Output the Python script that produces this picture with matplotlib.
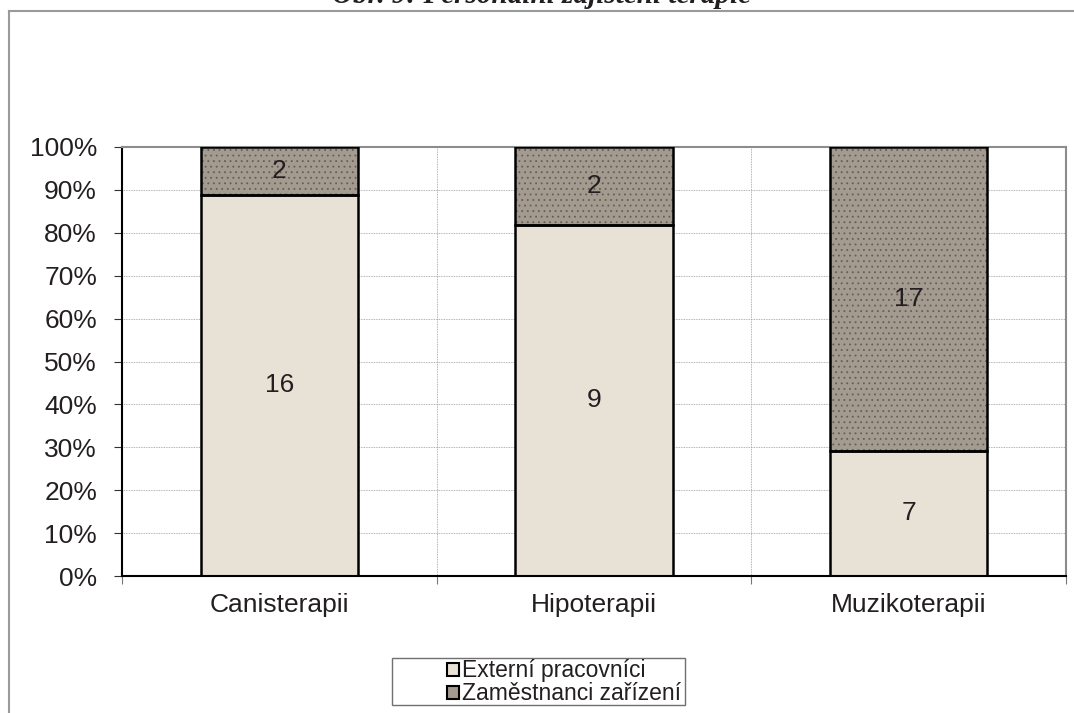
"""
Obr. 9: Personální zajištění terapie - 100% stacked bar chart.
Saves out.png (1074x713).
"""

import matplotlib

matplotlib.use("Agg")
import matplotlib.pyplot as plt
import numpy as np
from matplotlib.lines import Line2D
from matplotlib.patches import Rectangle
from matplotlib.ticker import FixedLocator, PercentFormatter

plt.rcParams["font.family"] = ["Liberation Sans", "DejaVu Sans"]
plt.rcParams["hatch.linewidth"] = 0.6

# data
categories = ["Canisterapii", "Hipoterapii", "Muzikoterapii"]
externi = [16, 9, 7]
zamestnanci = [2, 2, 17]
series_labels = ["Externí pracovníci", "Zaměstnanci zařízení"]
title = "Obr. 9: Personální zajištění terapie"

COLOR_EXT = "#E8E1D5"
COLOR_ZAM = "#A39A90"
TEXT_COLOR = "#231F20"
W, H = 1074, 713


def main() -> None:
    fig = plt.figure(figsize=(W / 100, H / 100), dpi=100)
    ax = fig.add_axes([122 / W, 1 - 576 / H, (1066 - 122) / W, (576 - 147) / H])

    ext = np.array(externi, dtype=float)
    zam = np.array(zamestnanci, dtype=float)
    total = ext + zam
    ext_pct = ext / total * 100
    zam_pct = zam / total * 100
    x = np.arange(len(categories))

    # fills
    ax.bar(x, ext_pct, width=0.5, color=COLOR_EXT, linewidth=0, zorder=2)
    ax.bar(x, zam_pct, width=0.5, bottom=ext_pct, color=COLOR_ZAM,
           edgecolor="#675D54", hatch="...", linewidth=0, zorder=2)
    # outlines
    ax.bar(x, ext_pct, width=0.5, fill=False, edgecolor="black", linewidth=1.8, zorder=3)
    ax.bar(x, zam_pct, width=0.5, bottom=ext_pct, fill=False,
           edgecolor="black", linewidth=1.8, zorder=3)

    for i in range(len(categories)):
        ax.text(x[i], ext_pct[i] / 2, f"{externi[i]:g}", ha="center", va="center",
                fontsize=19, color=TEXT_COLOR, zorder=4)
        ax.text(x[i], ext_pct[i] + zam_pct[i] / 2, f"{zamestnanci[i]:g}", ha="center",
                va="center", fontsize=19, color=TEXT_COLOR, zorder=4)

    ax.set_xlim(-0.5, len(categories) - 0.5)
    ax.set_ylim(0, 100)
    ax.yaxis.set_major_locator(FixedLocator(np.arange(0, 101, 10)))
    ax.yaxis.set_major_formatter(PercentFormatter(decimals=0))
    ax.tick_params(axis="y", direction="out", length=6, width=0.8, pad=12,
                   labelsize=19, labelcolor=TEXT_COLOR, color="#333333")

    ax.set_xticks(np.arange(len(categories) + 1) - 0.5)
    ax.set_xticklabels([])
    ax.set_xticks(x, minor=True)
    ax.set_xticklabels(categories, minor=True)
    ax.tick_params(axis="x", which="major", direction="out", length=6, width=0.8,
                   color="#777777")
    ax.tick_params(axis="x", which="minor", length=0, pad=12, labelsize=19,
                   labelcolor=TEXT_COLOR)

    ax.grid(True, which="major", color="#9A9A9A", linestyle=(0, (1, 1)), linewidth=0.6, zorder=0)
    ax.set_axisbelow(True)

    ax.spines["left"].set_color("black")
    ax.spines["left"].set_linewidth(1.5)
    ax.spines["bottom"].set_color("black")
    ax.spines["bottom"].set_linewidth(1.5)
    ax.spines["top"].set_color("#8C8C8C")
    ax.spines["top"].set_linewidth(1.5)
    ax.spines["right"].set_color("#8C8C8C")
    ax.spines["right"].set_linewidth(1.5)

    # page frame
    fig.add_artist(Line2D([8.5 / W, 8.5 / W], [0, 1 - 10.5 / H], color="#9A9A9A", linewidth=1.5))
    fig.add_artist(Line2D([8.5 / W, 1], [1 - 10.5 / H, 1 - 10.5 / H], color="#9A9A9A", linewidth=1.5))

    # title, mostly cut off at the top edge
    fig.text(541 / W, 1 - 3 / H, title, ha="center", va="baseline", fontsize=21,
             family=["Liberation Serif", "DejaVu Serif"], fontweight="bold",
             fontstyle="italic", color=TEXT_COLOR)

    # legend
    handles = [
        Rectangle((0, 0), 1, 1, facecolor=COLOR_EXT, edgecolor="black", linewidth=1.5),
        Rectangle((0, 0), 1, 1, facecolor=COLOR_ZAM, edgecolor="black", linewidth=1.5),
    ]
    fig.legend(handles, series_labels, loc="upper left",
               bbox_to_anchor=(436 / W, 1 - 648 / H), frameon=False, fontsize=16.5,
               handlelength=0.5, handleheight=0.5, handletextpad=0.15,
               labelspacing=0.0, borderpad=0, labelcolor=TEXT_COLOR)
    fig.add_artist(Rectangle((392 / W, 1 - 705 / H), (685 - 392) / W, (705 - 658) / H,
                             transform=fig.transFigure, fill=False,
                             edgecolor="#707070", linewidth=1.0))

    fig.savefig("out.png", dpi=100)
    plt.close(fig)


if __name__ == "__main__":
    main()
